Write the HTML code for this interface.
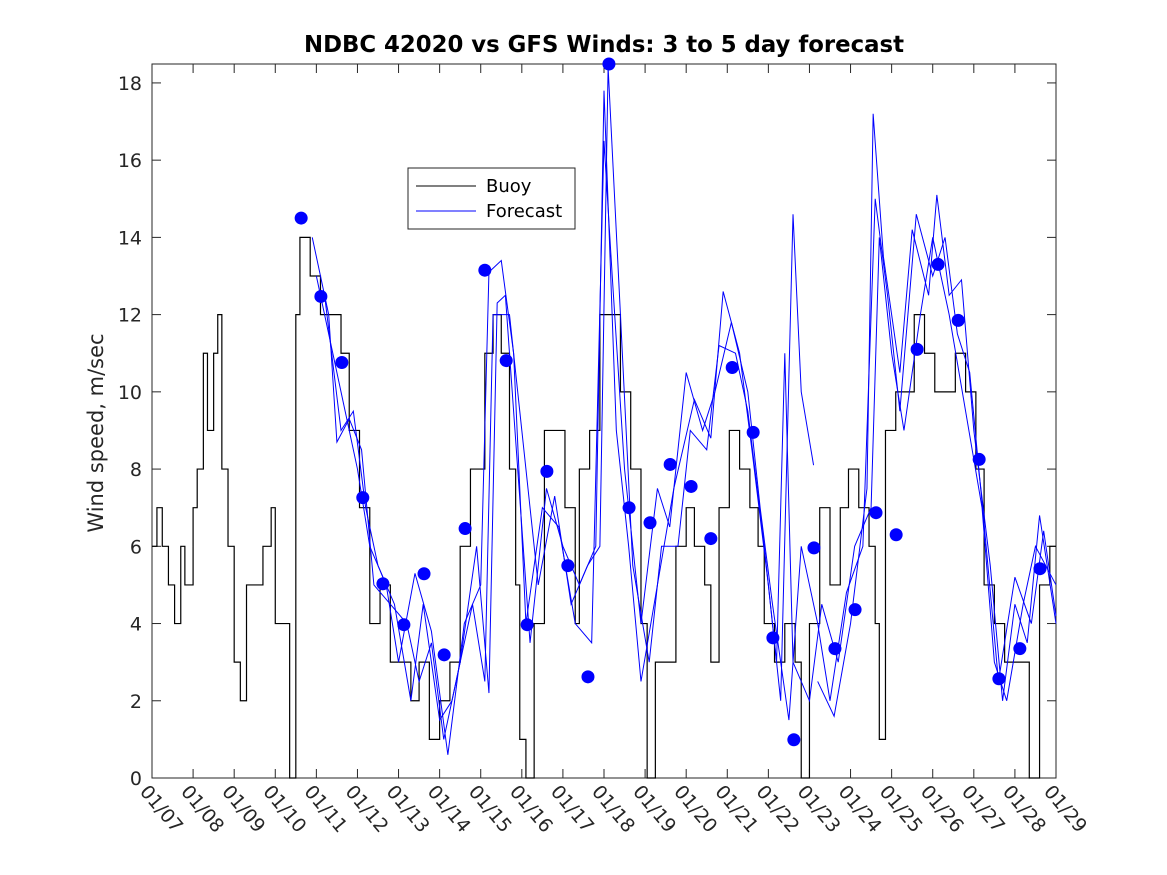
<!DOCTYPE html>
<html><head><meta charset="utf-8"><style>
body{margin:0;background:#fff;}
svg{display:block;font-family:"DejaVu Sans","Liberation Sans",sans-serif;}
</style></head><body>
<svg id="chart" width="1167" height="875">
<rect width="1167" height="875" fill="#fff"/>
<text x="604" y="52" text-anchor="middle" font-size="22.8" font-weight="bold">NDBC 42020 vs GFS Winds: 3 to 5 day forecast</text>
<text transform="translate(103,433) rotate(-90)" text-anchor="middle" font-size="21" fill="#262626">Wind speed, m/sec</text>
<g id="plot"></g>
</svg>
<script>
const yTicks=[0,2,4,6,8,10,12,14,16,18];
const xTickLabels=["01/07","01/08","01/09","01/10","01/11","01/12","01/13","01/14","01/15","01/16","01/17","01/18","01/19","01/20","01/21","01/22","01/23","01/24","01/25","01/26","01/27","01/28","01/29"];
const buoyDays=[0,0.12,0.25,0.4,0.55,0.7,0.8,1.0,1.1,1.25,1.35,1.5,1.6,1.7,1.85,2.0,2.15,2.3,2.5,2.7,2.9,3.0,3.2,3.35,3.5,3.6,3.85,4.1,4.35,4.6,4.8,5.05,5.3,5.55,5.8,6.05,6.3,6.5,6.75,7.0,7.25,7.5,7.75,8.0,8.1,8.3,8.5,8.7,8.85,8.95,9.1,9.3,9.55,9.8,10.05,10.3,10.4,10.65,10.9,11.15,11.4,11.65,11.9,12.05,12.25,12.5,12.75,13.0,13.2,13.45,13.6,13.8,14.05,14.3,14.55,14.75,14.9,15.15,15.4,15.65,15.8,16.0,16.25,16.5,16.75,16.95,17.2,17.45,17.6,17.7,17.85,18.1,18.35,18.55,18.8,19.05,19.3,19.55,19.8,20.05,20.25,20.5,20.75,21.0,21.25,21.35,21.6,21.85,22];
const buoyVals=[6,7,6,5,4,6,5,7,8,11,9,11,12,8,6,3,2,5,5,6,7,4,4,0,12,14,13,12,12,11,9,7,4,5,3,3,2,3,1,2,3,6,8,8,11,12,11,8,5,1,0,4,9,9,7,4,8,9,12,12,10,8,4,0,3,3,6,7,6,5,3,7,9,8,7,6,4,3,4,3,0,4,7,5,7,8,7,6,4,1,9,10,10,12,11,10,10,11,10,8,5,4,3,3,3,0,5,6,6];
const dotDays=[3.63,4.11,4.62,5.13,5.62,6.13,6.62,7.11,7.62,8.10,8.62,9.13,9.61,10.12,10.61,11.12,11.61,12.12,12.61,13.12,13.60,14.12,14.63,15.11,15.62,16.11,16.62,17.11,17.62,18.11,18.62,19.13,19.62,20.13,20.61,21.12,21.61];
const dotVals=[14.5,12.47,10.76,7.26,5.03,3.97,5.29,3.19,6.46,13.15,10.81,3.97,7.94,5.5,2.62,18.49,7.0,6.61,8.12,7.55,6.2,10.63,8.95,3.63,0.99,5.96,3.35,4.36,6.87,6.3,11.1,13.3,11.85,8.25,2.57,3.35,5.42];
const f1Days=[3.9,4.3,4.5,4.8,5.1,5.4,5.8,6.2,6.5,6.8,7.1,7.5,7.9,8.2,8.4,8.6,8.9,9.2,9.6,10.0,10.4,10.8,11.0,11.3,11.6,11.9,12.3,12.7,13.2,13.6,13.9,14.3,14.6,15.0,15.3,15.6,15.8,16.1];
const f1Vals=[14,12,8.7,9.3,8.5,5,4.5,4,2.5,3.5,1,3,6,2.2,12.3,12.5,8,3.5,7.5,6,5,6,17.8,9,6,2.5,5,7.5,9.8,8.8,12.6,11,8.5,5,2,14.6,10,8.1];
const f1bDays=[16.2,16.6,17.0,17.4,17.55,17.8,18.2,18.5,18.9,19.1,19.4,19.7,20.0,20.4,20.7,21.0,21.3,21.6,22];
const f1bVals=[2.5,1.6,4,7.5,17.2,13.5,10.5,14.2,12.5,15.1,12.5,12.9,9,5.5,2,4.5,3.5,6.8,4];
const f2Days=[4.0,4.4,4.7,5.0,5.3,5.7,6.0,6.4,6.8,7.2,7.6,8.0,8.2,8.5,8.8,9.1,9.5,9.9,10.3,10.7,11.0,11.2,11.5,11.9,12.3,12.6,13.0,13.4,13.7,14.1,14.5,14.8,15.1,15.5,15.8,16.2,16.5,16.9,17.3,17.6,17.9,18.2,18.6,19.0,19.3,19.6,19.9,20.3,20.6,21.0,21.4,21.7,22];
const f2Vals=[13,11,9.5,8,6,5,3,5.3,3.8,0.6,4,5,13.1,13.4,11,4,7,6.5,4,3.5,16.5,13,8,4,7.5,6.5,10.5,9,10,11.8,10,7,4.5,1.5,6,4,2,4.8,6,15,12.5,9.5,14.6,13,14,11.5,10.5,6,2.5,5.2,4,6.4,4.2];
const f3Days=[4.2,4.6,4.9,5.2,5.5,5.9,6.3,6.6,7.0,7.3,7.8,8.1,8.3,8.7,9.0,9.4,9.8,10.2,10.6,10.9,11.1,11.4,11.7,12.1,12.4,12.8,13.1,13.5,13.8,14.2,14.5,14.9,15.2,15.4,15.6,16.0,16.3,16.7,17.1,17.5,17.7,18.0,18.3,18.7,19.0,19.4,19.8,20.2,20.5,20.8,21.2,21.5,22];
const f3Vals=[12.5,9,9.5,7,5.5,4.5,2,4.5,1.5,2,4.5,2.5,12,12,9,5,7.3,4.5,5.5,6,18.4,12,5.5,3,6,6,9,8.5,11.2,11,9.5,6,3,11,3,2,4.5,3,6,7,14,11,9,12,14,12,9.5,7,3,2,4.5,6,5];

const L=152,R=1056,T=64,B=778,YMAX=18.49,DAYS=22;
const xs=d=>L+(R-L)*d/DAYS, ys=v=>B-(B-T)*v/YMAX;
const NS="http://www.w3.org/2000/svg";
const g=document.getElementById('plot');
function mk(tag,attrs){const e=document.createElementNS(NS,tag);for(const k in attrs)e.setAttribute(k,attrs[k]);g.appendChild(e);return e;}
let box=mk('rect',{x:L,y:T,width:R-L,height:B-T,fill:'none',stroke:'#262626','stroke-width':1});


yTicks.forEach(v=>{
  const y=ys(v);
  mk('line',{x1:L,x2:L+9,y1:y,y2:y,stroke:'#262626'});
  mk('line',{x1:R,x2:R-9,y1:y,y2:y,stroke:'#262626'});
  const t=mk('text',{x:L-10,y:y+7,'text-anchor':'end','font-size':19,fill:'#262626'});
  t.textContent=v;
  
  
});
xTickLabels.forEach((lab,i)=>{
  const x=xs(i);
  mk('line',{x1:x,x2:x,y1:B,y2:B-9,stroke:'#262626'});
  mk('line',{x1:x,x2:x,y1:T,y2:T+9,stroke:'#262626'});
  const t=mk('text',{transform:`translate(${x-13},${B+14}) rotate(50)`,'font-size':19,fill:'#262626'});
  t.textContent=lab;
  
  
});
let d='';
buoyDays.forEach((dy,i)=>{
  const x=xs(dy),y=ys(buoyVals[i]);
  if(i===0)d+=`M${x},${y}`;else d+=`V${y}H${x}`;
  if(i<buoyDays.length-1)d+=`H${xs(buoyDays[i+1])}`;
});
let bp=mk('path',{d:d,fill:'none',stroke:'#000','stroke-width':1.2});


function line(days,vals,name){
  const p=mk('polyline',{points:days.map((dy,i)=>xs(dy)+','+ys(vals[i])).join(' '),fill:'none',stroke:'#0000ff','stroke-width':1});
  
  
}
line(f1Days,f1Vals,'forecast-line-1');
line(f1bDays,f1bVals,'forecast-line-1b');
line(f2Days,f2Vals,'forecast-line-2');
line(f3Days,f3Vals,'forecast-line-3');
dotDays.forEach((dy,i)=>{
  const c=mk('circle',{cx:xs(dy),cy:ys(dotVals[i]),r:6.5,fill:'#0000ff'});
  
  
});
const lg=document.createElementNS(NS,'g');


g.appendChild(lg);
lg.innerHTML='<rect x="408" y="168" width="167" height="61" fill="#fff" stroke="#262626"/>'+
'<line x1="416" x2="476" y1="186" y2="186" stroke="#000"/><text x="486" y="192" font-size="18">Buoy</text>'+
'<line x1="416" x2="476" y1="211" y2="211" stroke="#0000ff"/><text x="486" y="217" font-size="18">Forecast</text>';
</script>
</body></html>
